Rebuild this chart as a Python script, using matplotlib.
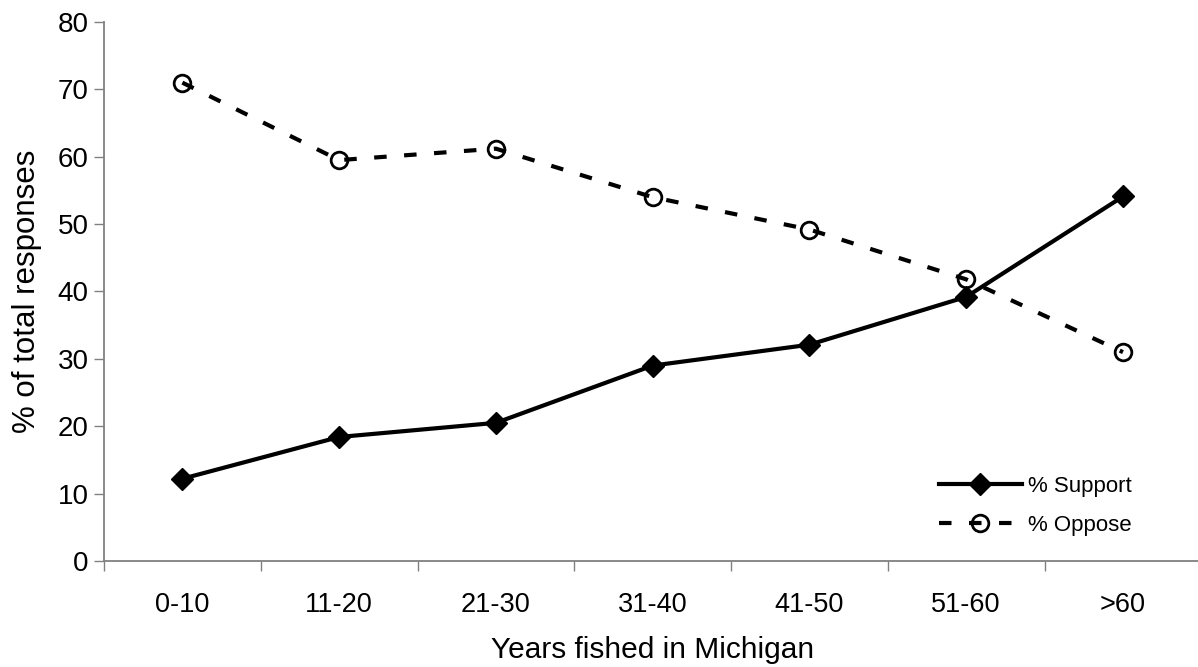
import matplotlib.pyplot as plt

plt.rcParams['font.family'] = ['Liberation Sans', 'DejaVu Sans']

categories = ['0-10', '11-20', '21-30', '31-40', '41-50', '51-60', '>60']
support = [12.2, 18.4, 20.5, 29.0, 32.1, 39.2, 54.1]
oppose = [71.0, 59.5, 61.2, 54.0, 49.2, 41.8, 31.0]


def plot_responses():
    fig = plt.figure(figsize=(11.98, 6.67), dpi=100)
    ax = fig.add_axes([0.0868, 0.159, 0.916, 0.808])
    x = range(len(categories))

    ax.plot(x, support, color='black', linewidth=3, marker='D', markersize=11,
            label='% Support', zorder=3)
    ax.plot(x, oppose, color='black', linewidth=3, linestyle=(0, (3, 4.2)),
            marker='o', markersize=12, markerfacecolor='none', markeredgewidth=2,
            label='% Oppose', zorder=3)

    ax.set_xlim(-0.5, len(categories) - 0.5)
    ax.set_ylim(0, 80)
    ax.set_yticks(range(0, 81, 10))
    ax.set_xticks(list(x))
    ax.set_xticklabels(categories)
    ax.set_xticks([i - 0.5 for i in range(len(categories) + 1)], minor=True)
    ax.tick_params(axis='x', which='major', length=0, pad=22, labelsize=19.5)
    ax.tick_params(axis='x', which='minor', length=7, width=1, color='#808080')
    ax.tick_params(axis='y', length=7, width=1, color='#808080', labelsize=20, pad=4)

    for side in ['top', 'right']:
        ax.spines[side].set_visible(False)
    for side in ['left', 'bottom']:
        ax.spines[side].set_color('#808080')
        ax.spines[side].set_linewidth(1.3)

    ax.set_xlabel('Years fished in Michigan', fontsize=21.5, labelpad=13)
    ax.set_ylabel('% of total responses', fontsize=22.5, labelpad=11)

    ax.legend(loc='lower right', bbox_to_anchor=(0.955, 0.01), frameon=False,
              fontsize=16, handlelength=3.7, handletextpad=0.3, numpoints=1,
              labelspacing=0.8)

    fig.savefig('out.png', dpi=100)


if __name__ == '__main__':
    plot_responses()
